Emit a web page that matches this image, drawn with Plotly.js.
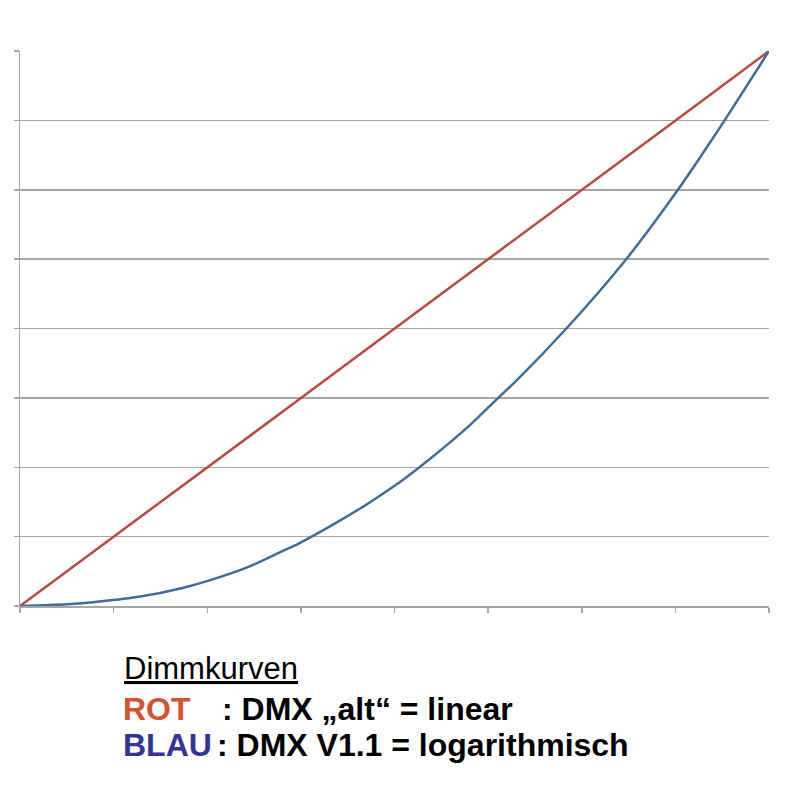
<!DOCTYPE html>
<html>
<head>
<meta charset="utf-8">
<script src="https://cdn.plot.ly/plotly-3.0.1.min.js"></script>
<style>html,body{margin:0;padding:0;background:#fff;}#chart{width:800px;height:800px;}</style>
</head>
<body>
<div id="chart"></div>
<script>
// DMX value (0..255) vs. output level (%)
const redDmx   = [0, 32, 64, 96, 128, 160, 192, 224, 255];
const redLevel = [0, 12.5, 25.1, 37.6, 50.2, 62.7, 75.3, 87.8, 100];

const blueDmx   = [0, 16, 27, 41, 55, 65, 78, 89, 95, 107, 118, 129, 136, 146, 154, 163, 169, 186, 207, 224, 231, 240, 255];
const blueLevel = [0, 0.3, 0.8, 1.7, 3.2, 4.7, 7.1, 9.8, 11.3, 14.8, 18.3, 22.2, 25.0, 29.3, 33.0, 37.6, 40.6, 50.0, 62.9, 75.0, 80.4, 87.6, 100];

const titleText = "Dimmkurven";
const redLabel = "ROT";
const redDesc = ": DMX „alt“ = linear";
const blueLabel = "BLAU";
const blueDesc = ": DMX V1.1 = logarithmisch";

const L = 20, R = 769, T = 51, B = 606;
const px = x => (x - L) / (R - L);
const py = y => (B - y) / (B - T);
const font = {family: "Liberation Sans, Arial, sans-serif", size: 32, color: "#000"};

const traces = [
  {x: redDmx, y: redLevel, mode: "lines", line: {color: "#b54a40", width: 2.5}, hoverinfo: "skip"},
  {x: blueDmx, y: blueLevel, mode: "lines", line: {color: "#3f6d9a", width: 2.5, shape: "spline", smoothing: 0.8}, hoverinfo: "skip"}
];

function ann(text, x, y, color, size) {
  return {text: text, xref: "paper", yref: "paper", x: px(x), y: py(y), xanchor: "left", yanchor: "middle",
          showarrow: false, font: Object.assign({}, font, {color: color, size: size || font.size})};
}

const layout = {
  width: 800, height: 800,
  margin: {l: L, r: 800 - R, t: T, b: 800 - B},
  paper_bgcolor: "#fff", plot_bgcolor: "#fff",
  showlegend: false,
  xaxis: {range: [0, 255], tick0: 0, dtick: 255 / 8, showticklabels: false, showgrid: false, zeroline: false,
          showline: true, linecolor: "#a6a6a6", linewidth: 1.5, ticks: "outside", ticklen: 5, tickcolor: "#a6a6a6", tickwidth: 1.5},
  yaxis: {range: [0, 100], tick0: 0, dtick: 12.5, showticklabels: false, showgrid: true, gridcolor: "#a6a6a6", gridwidth: 1.5, zeroline: false,
          showline: true, linecolor: "#a6a6a6", linewidth: 1.5, ticks: "outside", ticklen: 5, tickcolor: "#a6a6a6", tickwidth: 1.5},
  annotations: [
    ann("<u>" + titleText + "</u>", 122, 668, "#000", 31),
    ann("<b>" + redLabel + "</b>", 121, 709, "#d4532f"),
    ann("<b>" + redDesc + "</b>", 220, 709, "#000"),
    ann("<b>" + blueLabel + "</b>", 121, 745, "#333399"),
    ann("<b>" + blueDesc + "</b>", 215, 745, "#000")
  ]
};

Plotly.newPlot("chart", traces, layout, {staticPlot: true, displayModeBar: false});
</script>
</body>
</html>
